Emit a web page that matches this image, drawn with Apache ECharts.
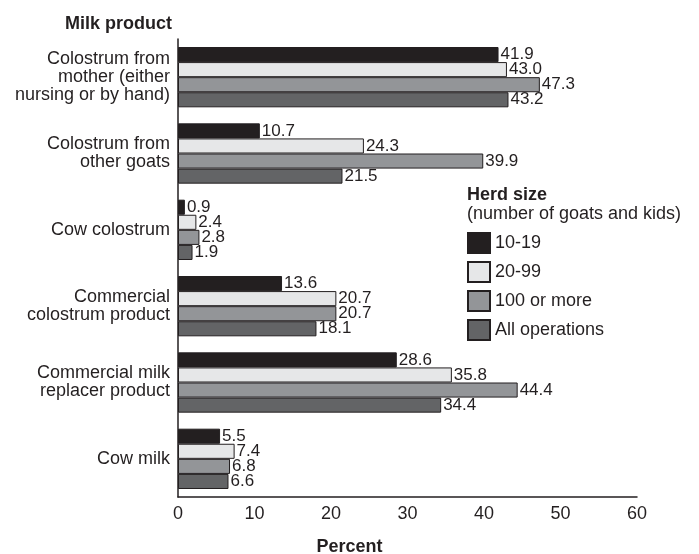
<!DOCTYPE html>
<html>
<head>
<meta charset="utf-8">
<script src="https://cdn.jsdelivr.net/npm/echarts@6/dist/echarts.min.js"></script>
<style>
html,body{margin:0;padding:0;background:#fff;}
#chart{width:699px;height:554px;}
</style>
</head>
<body>
<div id="chart"></div>
<script>
const categories = [
  "Colostrum from\nmother (either\nnursing or by hand)",
  "Colostrum from\nother goats",
  "Cow colostrum",
  "Commercial\ncolostrum product",
  "Commercial milk\nreplacer product",
  "Cow milk"
];
const seriesNames = ["10-19", "20-99", "100 or more", "All operations"];
const herd10to19 = [41.9, 10.7, 0.9, 13.6, 28.6, 5.5];
const herd20to99 = [43.0, 24.3, 2.4, 20.7, 35.8, 7.4];
const herd100plus = [47.3, 39.9, 2.8, 20.7, 44.4, 6.8];
const allOperations = [43.2, 21.5, 1.9, 18.1, 34.4, 6.6];
const xTicks = [0, 10, 20, 30, 40, 50, 60];

const colors = ["#231f20", "#e6e7e8", "#939598", "#636466"];
const dataSets = [herd10to19, herd20to99, herd100plus, allOperations];
const textColor = "#231f20";
const font = "Liberation Sans, Arial, sans-serif";

const chart = echarts.init(document.getElementById('chart'), null, {renderer: 'canvas'});
const option = {
  animation: false,
  backgroundColor: '#fff',
  textStyle: {fontFamily: font, color: textColor},
  grid: {left: 178, right: 62, top: 39, bottom: 57, containLabel: false},
  title: [
    {text: 'Milk product', left: 60, top: 10, textStyle: {fontFamily: font, fontWeight: 'bold', fontSize: 18, color: textColor}},
    {text: 'Percent', left: 'center', top: 533, textStyle: {fontFamily: font, fontWeight: 'bold', fontSize: 18, color: textColor}},
  ],
  legend: {
    orient: 'vertical',
    left: 462,
    top: 227,
    itemWidth: 22,
    itemHeight: 20,
    itemGap: 7,
    icon: 'rect',
    data: seriesNames,
    textStyle: {fontFamily: font, fontSize: 18, color: textColor},
  },
  graphic: [
    {type: 'text', left: 467, top: 186, style: {text: 'Herd size', font: 'bold 18px ' + font, fill: textColor}},
    {type: 'text', left: 467, top: 205, style: {text: '(number of goats and kids)', font: '18px ' + font, fill: textColor}}
  ],
  xAxis: {
    type: 'value', min: 0, max: 60, interval: 10,
    axisLine: {show: true, lineStyle: {color: textColor, width: 1.5}},
    axisTick: {show: false},
    splitLine: {show: false},
    axisLabel: {fontFamily: font, fontSize: 18, color: textColor, margin: 8,
      formatter: v => xTicks.includes(v) ? String(v) : ''}
  },
  yAxis: {
    type: 'category', data: categories, inverse: true,
    axisLine: {show: true, lineStyle: {color: textColor, width: 1.5}},
    axisTick: {show: false},
    axisLabel: {fontFamily: font, fontSize: 18, color: textColor, lineHeight: 18, margin: 8, align: 'right'}
  },
  series: dataSets.map((d, i) => ({
    name: seriesNames[i],
    type: 'bar',
    data: d,
    barGap: '0%',
    barCategoryGap: '21%',
    itemStyle: {color: colors[i], borderColor: '#231f20', borderWidth: 1},
    label: {show: true, position: 'right', distance: 2, fontFamily: font, fontSize: 17, color: textColor,
      formatter: p => p.value.toFixed(1)}
  }))
};
chart.setOption(option);
</script>
</body>
</html>
